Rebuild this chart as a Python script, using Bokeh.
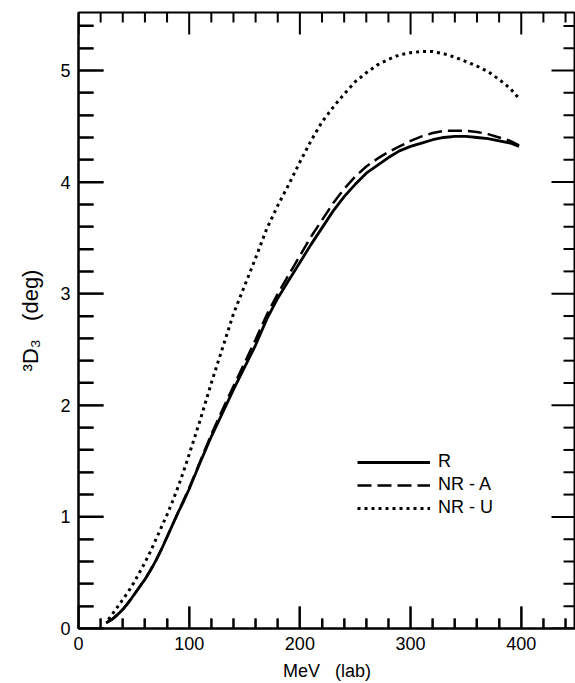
from bokeh.plotting import figure
from bokeh.models import FixedTicker, Legend, LegendItem, Range1d
from bokeh.embed import file_html
from bokeh.resources import INLINE

# --- data ---
e_r = [25, 30, 35, 40, 45, 50, 55, 60, 65, 70, 75, 80, 85, 90, 95, 100, 110, 120,
       130, 140, 150, 160, 170, 180, 190, 200, 210, 220, 230, 240, 250, 260, 270,
       280, 290, 300, 310, 320, 330, 340, 350, 360, 370, 380, 390, 398]
d_r = [0.05, 0.08, 0.12, 0.17, 0.23, 0.30, 0.37, 0.44, 0.52, 0.61, 0.71, 0.82,
       0.93, 1.04, 1.14, 1.25, 1.49, 1.72, 1.93, 2.14, 2.34, 2.54, 2.77, 2.96,
       3.12, 3.28, 3.44, 3.59, 3.74, 3.87, 3.98, 4.08, 4.15, 4.22, 4.28, 4.32,
       4.35, 4.38, 4.40, 4.41, 4.41, 4.40, 4.39, 4.37, 4.35, 4.32]

e_a = [25, 30, 40, 50, 60, 70, 80, 90, 100, 110, 120, 130, 140, 150, 160, 170,
       180, 190, 200, 210, 220, 230, 240, 250, 260, 270, 280, 290, 300, 310, 320,
       330, 340, 350, 360, 370, 380, 390, 398]
d_a = [0.05, 0.08, 0.17, 0.30, 0.44, 0.61, 0.82, 1.04, 1.26, 1.50, 1.74, 1.96,
       2.17, 2.38, 2.59, 2.81, 3.00, 3.17, 3.34, 3.51, 3.66, 3.81, 3.94, 4.05,
       4.14, 4.21, 4.27, 4.32, 4.37, 4.41, 4.44, 4.46, 4.46, 4.46, 4.45, 4.43,
       4.40, 4.37, 4.33]

e_u = [27, 30, 35, 40, 45, 50, 55, 60, 65, 70, 75, 80, 85, 90, 95, 100, 110, 120,
       130, 140, 150, 160, 170, 180, 190, 200, 210, 220, 230, 240, 250, 260, 270,
       280, 290, 300, 310, 320, 330, 340, 350, 360, 370, 380, 390, 397]
d_u = [0.08, 0.12, 0.19, 0.26, 0.33, 0.41, 0.50, 0.59, 0.69, 0.80, 0.91, 1.02,
       1.14, 1.27, 1.41, 1.56, 1.87, 2.20, 2.51, 2.82, 3.07, 3.32, 3.58, 3.79,
       3.98, 4.18, 4.37, 4.54, 4.67, 4.79, 4.90, 4.98, 5.05, 5.10, 5.14, 5.16,
       5.17, 5.17, 5.15, 5.12, 5.08, 5.04, 4.99, 4.92, 4.84, 4.76]

series_labels = ["R", "NR - A", "NR - U"]
x_major = [0, 100, 200, 300, 400]
x_minor = [20, 40, 60, 80, 120, 140, 160, 180, 220, 240, 260, 280, 320, 340,
           360, 380, 420, 440]
y_major = [0, 1, 2, 3, 4, 5]
y_minor = [0.2, 0.4, 0.6, 0.8, 1.2, 1.4, 1.6, 1.8, 2.2, 2.4, 2.6, 2.8,
           3.2, 3.4, 3.6, 3.8, 4.2, 4.4, 4.6, 4.8, 5.2, 5.4]
x_lim = (0, 449)
y_lim = (0, 5.52)

FONT = "Liberation Sans"
NB = "\u00a0"

W, H = 575, 683
BL, BR, BT, BB = 78, 0, 12, 52
p = figure(width=W, height=H, x_range=Range1d(*x_lim), y_range=Range1d(*y_lim),
           output_backend="svg", toolbar_location=None,
           min_border_left=BL, min_border_right=BR, min_border_top=BT,
           min_border_bottom=BB)
p.grid.visible = False
p.outline_line_color = "black"
p.outline_line_width = 2
p.background_fill_color = "white"
p.border_fill_color = "white"

for ax, ticks, minors, maj_len, min_len in (
        (p.xaxis[0], x_major, x_minor, 22, 10),
        (p.yaxis[0], y_major, y_minor, 25, 15)):
    ax.ticker = FixedTicker(ticks=ticks, minor_ticks=minors)
    ax.axis_line_width = 2
    ax.axis_line_color = "black"
    ax.major_tick_in = maj_len
    ax.major_tick_out = 0
    ax.minor_tick_in = min_len
    ax.minor_tick_out = 0
    ax.major_tick_line_width = 2
    ax.minor_tick_line_width = 2
    ax.major_tick_line_color = "black"
    ax.minor_tick_line_color = "black"
    ax.major_label_text_font = FONT
    ax.major_label_text_font_size = "18px"
    ax.major_label_text_color = "black"
    ax.major_label_standoff = 8
    ax.axis_label_text_font = FONT
    ax.axis_label_text_font_style = "normal"
    ax.axis_label_text_color = "black"

xa = p.xaxis[0]
xa.axis_label = "MeV" + NB * 3 + "(lab)"
xa.axis_label_text_font_size = "18px"
xa.axis_label_standoff = 8

ya = p.yaxis[0]
ya.major_label_orientation = "horizontal"
ya.axis_label = "³D₃" + NB * 3 + "(deg)"
ya.axis_label_text_font_size = "22px"
ya.axis_label_standoff = 14

# curves
r_r = p.line(e_r, d_r, line_color="black", line_width=2.8)
r_a = p.line(e_a, d_a, line_color="black", line_width=2.5, line_dash="14 6")
r_u = p.line(e_u, d_u, line_color="black", line_width=3, line_dash="3 4")

# inward ticks on all four frame edges as thin filled rectangles centred on the edge
# (sizes in screen pixels; the half outside the frame is clipped away)
RK = dict(width_units="screen", height_units="screen", fill_color="black",
          line_color=None)
for xs, L in ((x_major, 22), (x_minor, 10)):
    for yy in y_lim:
        p.rect(x=xs, y=[yy] * len(xs), width=2, height=2 * L, **RK)
for ys, L, edge in ((y_major, 25, x_lim[0]), (y_minor, 15, x_lim[0]),
                    (y_major, 24, x_lim[1]), (y_minor, 12, x_lim[1])):
    p.rect(x=[edge] * len(ys), y=ys, width=2 * L, height=2, **RK)

legend = Legend(items=[LegendItem(label=series_labels[0], renderers=[r_r]),
                       LegendItem(label=series_labels[1], renderers=[r_a]),
                       LegendItem(label=series_labels[2], renderers=[r_u])],
                location=(279, 110), glyph_width=73, glyph_height=20,
                label_height=20, spacing=2, padding=0, margin=0,
                label_standoff=8, label_text_font=FONT,
                label_text_font_size="18px", label_text_color="black",
                border_line_color=None, background_fill_alpha=0)
p.add_layout(legend)

open("out.html", "w").write(file_html(p, INLINE))
